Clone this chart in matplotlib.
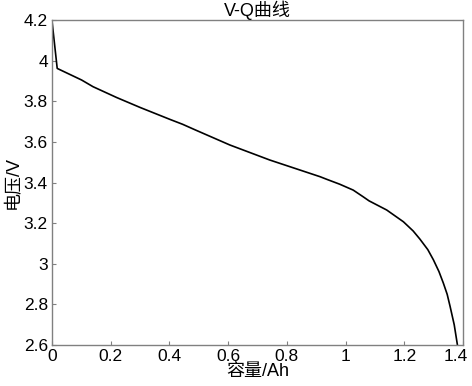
import matplotlib
matplotlib.use('Agg')
import matplotlib.pyplot as plt
import matplotlib.transforms as mtransforms

plt.rcParams['font.family'] = ['Liberation Sans', 'Noto Sans CJK SC', 'DejaVu Sans']

# 放电曲线数据
capacity = [0.0, 0.018, 0.05, 0.101, 0.14, 0.22, 0.30, 0.402, 0.445, 0.487,
            0.606, 0.742, 0.913, 0.936, 0.98, 1.026, 1.06, 1.08, 1.14, 1.197,
            1.23, 1.253, 1.28, 1.299, 1.318, 1.333, 1.346, 1.356, 1.37, 1.381]
voltage = [4.2, 3.962, 3.94, 3.905, 3.872, 3.819, 3.77, 3.711, 3.687, 3.66,
           3.585, 3.511, 3.429, 3.416, 3.392, 3.363, 3.33, 3.31, 3.265, 3.207,
           3.162, 3.122, 3.07, 3.02, 2.962, 2.905, 2.85, 2.79, 2.70, 2.6]
xticks = [0, 0.2, 0.4, 0.6, 0.8, 1, 1.2, 1.4]
yticks = [2.6, 2.8, 3, 3.2, 3.4, 3.6, 3.8, 4, 4.2]

fig = plt.figure(figsize=(4.72, 3.86), dpi=100)
ax = fig.add_axes([0.110, 0.106, 0.871, 0.842])
ax.plot(capacity, voltage, color='black', linewidth=1.2)
ax.set_xlim(0, 1.4)
ax.set_ylim(2.6, 4.2)
ax.set_xticks(xticks)
ax.set_xticklabels(['0', '0.2', '0.4', '0.6', '0.8', '1', '1.2', '1.4'])
ax.set_yticks(yticks)
ax.set_yticklabels(['2.6', '2.8', '3', '3.2', '3.4', '3.6', '3.8', '4', '4.2'])
ax.tick_params(direction='in', length=3, width=0.8, color='#808080',
               labelsize=12.5, pad=3)
for s in ax.spines.values():
    s.set_color('#808080')
    s.set_linewidth(1.0)
# 最后一个刻度标签稍微左移，防止被裁掉
last = ax.get_xticklabels()[-1]
last.set_transform(last.get_transform() +
                   mtransforms.ScaledTranslation(-5 / 72, 0, fig.dpi_scale_trans))
ax.set_title('V-Q曲线', fontsize=13, pad=2)
ax.set_xlabel('容量/Ah', fontsize=13, labelpad=-1)
ax.set_ylabel('电压/V', fontsize=13, labelpad=1)
fig.savefig('out.png', dpi=100)
